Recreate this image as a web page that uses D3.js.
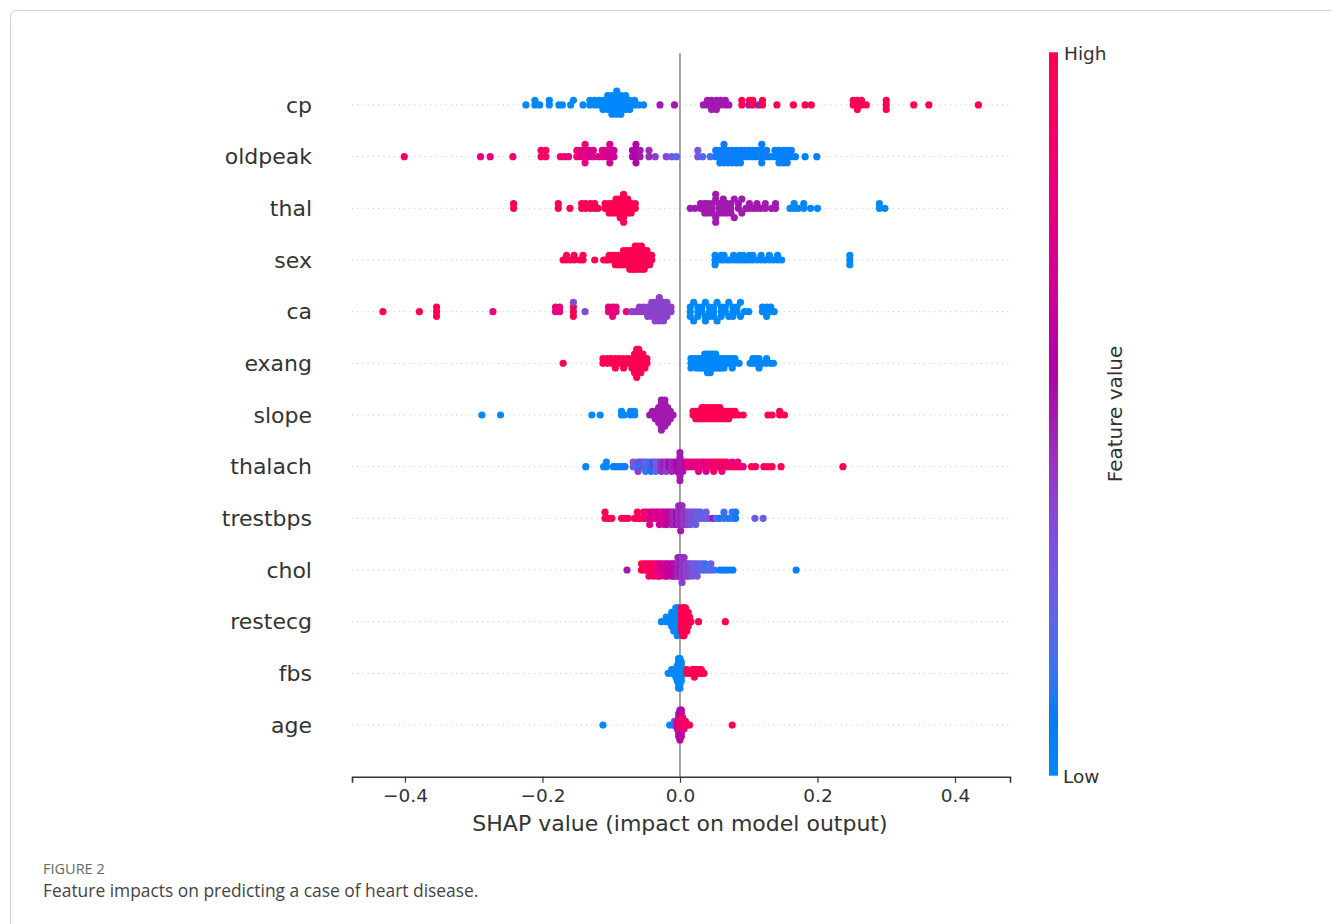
<!DOCTYPE html>
<html>
<head>
<meta charset="utf-8">
<script src="https://cdn.jsdelivr.net/npm/d3@7"></script>
<style>
  body { margin: 0; background: #fff; }
  text { font-family: "DejaVu Sans", sans-serif; fill: #333; }
</style>
</head>
<body>
<svg id="chart" width="1331" height="924"></svg>
<script>
// features, top to bottom
var features = ["cp", "oldpeak", "thal", "sex", "ca", "exang", "slope",
                "thalach", "trestbps", "chol", "restecg", "fbs", "age"];
var tickValues = [-0.4, -0.2, 0.0, 0.2, 0.4];

// [shap value, feature value 0..1, number of points at that value]
var shap_cp = [
  [-0.224,0,1],[-0.211,0,2],[-0.204,0,1],[-0.190,0,2],[-0.176,0,1],[-0.171,0,1],[-0.159,0,1],[-0.155,0,1],
  [-0.141,0,1],[-0.131,0,2],[-0.124,0,2],
  [-0.118,0,2],[-0.112,0,3],[-0.105,0,4],[-0.099,0,5],[-0.092,0,6],[-0.086,0,5],[-0.079,0,4],[-0.073,0,3],
  [-0.066,0,2],[-0.060,0,1],[-0.053,0,1],
  [-0.029,0.5,1],[-0.008,0.5,1],
  [0.034,0.5,1],[0.040,0.5,2],[0.046,0.5,3],[0.053,0.5,3],[0.059,0.5,2],[0.066,0.5,2],[0.071,0.5,1],
  [0.090,1,2],[0.100,0.5,1],[0.101,1,1],[0.106,1,2],[0.114,0.5,1],[0.120,1,2],
  [0.141,1,1],[0.165,1,1],[0.182,1,1],[0.191,1,1],
  [0.252,1,2],[0.258,1,3],[0.264,1,2],[0.271,1,1],
  [0.300,1,3],[0.340,1,1],[0.362,1,1],[0.434,1,1]
];
var shap_oldpeak = [
  [-0.401,0.9,1],[-0.290,0.8,1],[-0.276,0.8,1],[-0.243,0.85,1],[-0.202,0.95,2],[-0.195,0.95,2],
  [-0.174,0.85,1],[-0.168,0.85,1],[-0.162,0.8,1],[-0.150,0.85,2],[-0.144,0.75,2],[-0.138,0.8,4],
  [-0.132,0.7,2],[-0.126,0.75,2],[-0.119,0.7,1],[-0.113,0.75,2],[-0.107,0.7,2],[-0.102,0.7,4],[-0.096,0.65,2],
  [-0.069,0.55,2],[-0.064,0.55,4],[-0.058,0.5,2],[-0.045,0.45,2],[-0.036,0.4,1],[-0.020,0.35,1],
  [-0.012,0.3,1],[-0.005,0.2,1],
  [0.026,0.3,2],[0.033,0.2,1],[0.044,0.15,1],[0.052,0.1,2],[0.058,0.05,3],[0.064,0.1,4],[0.070,0.05,3],
  [0.076,0.1,3],[0.082,0.05,3],[0.088,0.05,3],[0.094,0.1,2],[0.100,0.05,2],[0.106,0.05,2],[0.112,0.05,2],
  [0.119,0.05,4],[0.126,0.1,2],[0.132,0.05,1],[0.138,0.05,2],[0.144,0.05,3],[0.150,0.05,3],[0.156,0.05,3],
  [0.162,0.05,2],[0.168,0.05,1],[0.182,0.05,1],[0.199,0.05,1]
];
var shap_thal = [
  [-0.242,1,2],[-0.177,1,2],[-0.160,1,1],[-0.143,1,2],[-0.137,1,2],[-0.130,1,2],[-0.124,1,2],[-0.119,1,1],
  [-0.109,1,2],[-0.103,1,3],[-0.098,1,3],[-0.093,1,4],[-0.087,1,5],[-0.082,1,7],[-0.076,1,4],[-0.071,1,3],
  [-0.065,1,2],
  [0.015,0.5,1],[0.022,0.5,1],[0.030,0.5,2],[0.036,0.5,3],[0.041,0.5,3],[0.047,0.5,3],[0.052,0.5,4],
  [0.057,0.5,3],[0.063,0.5,4],[0.068,0.5,3],[0.074,0.5,3],[0.079,0.5,2],[0.085,0.5,2],[0.090,0.5,2],
  [0.096,0.5,1],[0.101,0.5,2],[0.107,0.5,1],[0.112,0.5,2],[0.118,0.5,1],[0.124,0.5,2],[0.133,0.5,1],
  [0.139,0.5,2],
  [0.160,0,1],[0.166,0,2],[0.172,0,1],[0.180,0,2],[0.190,0,1],[0.200,0,1],[0.290,0,2],[0.298,0,1]
];
var shap_sex = [
  [-0.170,1,1],[-0.165,1,2],[-0.160,1,1],[-0.154,1,2],[-0.146,1,1],[-0.141,1,2],[-0.124,1,1],
  [-0.111,1,1],[-0.107,1,1],[-0.103,1,2],[-0.098,1,2],[-0.094,1,3],[-0.090,1,3],[-0.086,1,3],[-0.082,1,4],
  [-0.077,1,4],[-0.073,1,5],[-0.069,1,5],[-0.065,1,6],[-0.061,1,6],[-0.056,1,6],[-0.052,1,5],[-0.048,1,4],
  [-0.044,1,3],[-0.041,1,2],
  [0.051,0,3],[0.055,0,1],[0.060,0,2],[0.064,0,2],[0.069,0,1],[0.073,0,1],[0.078,0,2],[0.083,0,1],
  [0.087,0,2],[0.092,0,2],[0.096,0,1],[0.101,0,2],[0.106,0,2],[0.112,0,1],[0.118,0,2],[0.124,0,1],
  [0.130,0,2],[0.136,0,1],[0.142,0,2],[0.148,0,1],[0.247,0,3]
];
var shap_ca = [
  [-0.432,1,1],[-0.379,1,1],[-0.354,1,3],[-0.272,0.8,1],[-0.181,0.8,2],[-0.175,0.8,2],[-0.155,1,3],
  [-0.155,0.35,1],[-0.138,0.35,1],
  [-0.104,0.8,2],[-0.098,0.8,3],[-0.093,0.8,2],[-0.078,0.8,1],
  [-0.070,0.4,1],[-0.064,0.4,1],[-0.059,0.4,2],[-0.053,0.4,2],[-0.047,0.38,3],[-0.041,0.38,4],
  [-0.036,0.38,5],[-0.030,0.38,6],[-0.024,0.38,5],[-0.019,0.38,4],[-0.013,0.38,2],
  [0.015,0,3],[0.020,0,2],[0.026,0,3],[0.032,0,2],[0.037,0,3],[0.043,0,3],[0.049,0,3],[0.054,0,2],
  [0.060,0,3],[0.066,0,2],[0.071,0,2],[0.077,0,3],[0.083,0,2],[0.088,0,2],[0.094,0,1],[0.100,0,1],
  [0.120,0,2],[0.126,0,3],[0.132,0,2],[0.137,0,1]
];
var shap_exang = [
  [-0.170,1,1],[-0.112,1,2],[-0.106,1,2],[-0.100,1,2],[-0.094,1,3],[-0.088,1,2],[-0.082,1,3],[-0.076,1,2],
  [-0.070,1,3],[-0.066,1,5],[-0.063,1,7],[-0.060,1,6],[-0.057,1,5],[-0.054,1,4],[-0.051,1,3],[-0.048,1,2],
  [0.016,0,3],[0.020,0,2],[0.024,0,3],[0.028,0,3],[0.032,0,3],[0.036,0,4],[0.040,0,5],[0.044,0,5],
  [0.048,0,4],[0.052,0,4],[0.056,0,3],[0.060,0,3],[0.064,0,3],[0.068,0,2],[0.072,0,2],[0.076,0,3],
  [0.080,0,2],[0.086,0,1],[0.102,0,1],[0.106,0,2],[0.110,0,2],[0.115,0,3],[0.120,0,1],[0.126,0,2],
  [0.132,0,1],[0.136,0,1]
];
var shap_slope = [
  [-0.288,0,1],[-0.261,0,1],[-0.128,0,1],[-0.116,0,1],[-0.085,0,2],[-0.081,0,1],[-0.072,0,2],[-0.066,0,2],
  [-0.044,0.5,1],[-0.040,0.5,2],[-0.036,0.5,3],[-0.031,0.5,5],[-0.027,0.5,9],[-0.022,0.5,8],
  [-0.018,0.5,5],[-0.014,0.5,3],[-0.010,0.5,1],
  [0.019,1,2],[0.023,1,3],[0.027,1,3],[0.032,1,4],[0.036,1,4],[0.041,1,4],[0.045,1,4],[0.049,1,4],
  [0.054,1,4],[0.058,1,4],[0.063,1,3],[0.067,1,3],[0.071,1,3],[0.076,1,2],[0.080,1,2],[0.085,1,1],
  [0.092,1,1],[0.128,1,1],[0.134,1,1],[0.145,1,2],[0.152,1,1]
];
var shap_thalach = [
  [-0.137,0,1],[-0.111,0,1],[-0.107,0,2],[-0.097,0.05,1],[-0.093,0.05,1],[-0.088,0.1,1],[-0.084,0.05,1],
  [-0.080,0.1,1],
  [-0.068,0.3,2],[-0.064,0.15,1],[-0.061,0.4,2],[-0.057,0.1,2],[-0.053,0.35,2],[-0.050,0.15,3],
  [-0.046,0.25,2],[-0.042,0.1,3],[-0.038,0.45,2],[-0.035,0.2,3],[-0.031,0.3,2],[-0.027,0.45,3],
  [-0.023,0.5,2],[-0.020,0.4,3],[-0.016,0.55,2],[-0.012,0.45,3],[-0.008,0.5,2],[-0.004,0.55,3],
  [0.000,0.5,7],[0.004,0.5,3],[0.008,0.6,2],[0.011,0.8,2],
  [0.015,0.8,2],[0.019,0.7,2],[0.023,0.85,2],[0.027,0.75,3],[0.031,0.9,2],[0.034,0.8,2],[0.038,0.7,3],
  [0.042,0.9,2],[0.046,0.8,2],[0.049,0.95,3],[0.053,0.85,2],[0.057,0.9,2],[0.061,0.8,3],[0.064,1,2],
  [0.068,0.85,2],[0.072,0.9,1],[0.076,0.8,2],[0.080,0.95,1],[0.084,0.85,2],[0.088,0.9,1],[0.092,0.8,1],
  [0.104,1,1],[0.110,0.95,1],[0.122,0.9,1],[0.128,0.95,1],[0.134,1,1],[0.147,1,1],[0.237,1,1]
];
var shap_trestbps = [
  [-0.109,1,2],[-0.104,1,1],[-0.099,1,1],[-0.085,1,1],[-0.080,1,1],[-0.075,0.95,1],
  [-0.066,0.95,1],[-0.062,1,2],[-0.058,0.9,1],[-0.053,0.95,2],[-0.049,0.85,2],[-0.046,0.9,1],
  [-0.044,0.75,3],[-0.040,0.6,2],[-0.037,0.8,2],[-0.033,0.7,2],[-0.030,0.65,3],[-0.026,0.8,2],
  [-0.023,0.7,3],[-0.019,0.6,3],[-0.016,0.65,2],
  [-0.012,0.5,3],[-0.009,0.45,3],[-0.005,0.55,3],[-0.002,0.4,4],[0.001,0.5,5],[0.003,0.45,4],
  [0.006,0.4,3],[0.009,0.45,3],[0.012,0.35,3],
  [0.016,0.3,3],[0.020,0.35,2],[0.023,0.25,3],[0.027,0.3,2],[0.030,0.2,2],[0.034,0.3,1],[0.038,0.25,2],
  [0.042,0.3,1],
  [0.048,0.5,1],[0.053,0.15,1],[0.058,0.1,1],[0.064,0.15,2],[0.070,0.1,1],[0.076,0.15,2],[0.081,0.1,2],
  [0.109,0.25,1],[0.121,0.25,1]
];
var shap_chol = [
  [-0.077,0.5,1],[-0.056,1,2],[-0.052,1,2],[-0.049,0.95,2],[-0.045,0.9,3],[-0.042,1,2],[-0.038,0.95,3],
  [-0.035,0.9,2],
  [-0.032,0.75,3],[-0.029,0.8,3],[-0.026,0.65,2],[-0.022,0.75,3],[-0.019,0.6,3],[-0.016,0.7,2],
  [-0.012,0.55,3],[-0.009,0.65,3],[-0.006,0.5,3],
  [-0.003,0.45,4],[0.000,0.5,4],[0.003,0.4,5],[0.006,0.45,4],[0.009,0.35,3],[0.012,0.4,3],[0.015,0.35,2],
  [0.018,0.3,3],[0.022,0.25,2],[0.025,0.3,3],[0.029,0.2,2],[0.033,0.25,2],[0.037,0.15,2],[0.041,0.2,1],
  [0.045,0.25,2],[0.050,0.15,1],
  [0.058,0.05,1],[0.062,0.1,1],[0.067,0.05,1],[0.072,0.1,1],[0.077,0.05,1],[0.169,0.05,1]
];
var shap_restecg = [
  [-0.027,0,1],[-0.020,0,2],[-0.016,0,2],[-0.012,0,4],[-0.009,0,5],[-0.006,0,6],[-0.004,0,7],[-0.002,0,6],
  [0.002,1,6],[0.004,1,7],[0.006,1,7],[0.008,1,6],[0.010,1,5],[0.012,1,4],[0.014,1,2],[0.016,1,1],
  [0.027,1,1],[0.066,1,1]
];
var shap_fbs = [
  [-0.017,0,1],[-0.012,0,2],[-0.009,0,2],[-0.006,0,3],[-0.004,0,5],[-0.002,0,9],[0.000,0,9],[0.002,0,6],
  [0.004,0,2],
  [0.010,1,2],[0.014,1,1],[0.018,1,2],[0.021,1,3],[0.024,1,2],[0.027,1,2],[0.031,1,2],[0.035,1,1]
];
var shap_age = [
  [-0.112,0,1],[-0.015,0,1],[-0.011,0.1,1],[-0.008,0.3,2],[-0.006,0.05,1],[-0.004,0.6,3],[-0.002,0.7,5],
  [-0.002,0.45,2],[0.000,0.8,5],[0.000,0.55,4],[0.002,1,4],[0.002,0.6,4],[0.004,0.85,4],[0.006,0.7,3],
  [0.008,0.95,2],[0.011,1,1],[0.014,1,1],[0.076,1,1]
];

var rows = [shap_cp, shap_oldpeak, shap_thal, shap_sex, shap_ca, shap_exang, shap_slope,
            shap_thalach, shap_trestbps, shap_chol, shap_restecg, shap_fbs, shap_age];

// shap red_blue colormap (lch ramp, darker in the middle)
function redBlue(t) {
  var h = 266.93 + t * (380.32 - 266.93);
  var c = 70 + 20 * t;
  var l = t <= 0.5 ? 54 - 28 * t : 40 + 28 * (t - 0.5);
  return d3.hcl(h, c, l).formatHex();
}

// one entry per point
function expand(groups) {
  var out = [];
  groups.forEach(function (g) {
    for (var k = 0; k < g[2]; k++) out.push([g[0], g[1]]);
  });
  return out;
}

// stack points that fall into the same bin, like shap's beeswarm
function swarm(pts) {
  var n = pts.length, nbins = 100;
  var vals = pts.map(function (p) { return p[0]; });
  var mn = d3.min(vals), mx = d3.max(vals);
  var quant = vals.map(function (v) { return Math.round(nbins * (v - mn) / (mx - mn + 1e-8)); });
  var inds = d3.range(n).sort(function (a, b) { return quant[a] - quant[b] || a - b; });
  var ys = new Array(n).fill(0), layer = 0, last = null;
  inds.forEach(function (i) {
    if (quant[i] !== last) layer = 0;
    ys[i] = Math.ceil(layer / 2) * ((layer % 2) * 2 - 1);
    layer += 1;
    last = quant[i];
  });
  var m = d3.max(ys) + 1;
  return ys.map(function (y) { return y * 0.9 * (0.4 / m); });
}

var svg = d3.select("#chart");

// journal frame
svg.append("rect")
  .attr("x", 10.5).attr("y", 10.5)
  .attr("width", 1340).attr("height", 1000)
  .attr("rx", 6)
  .attr("fill", "none")
  .attr("stroke", "#cfcfcf");

var x = d3.scaleLinear().domain([-0.477, 0.48]).range([352, 1010]);
var y = d3.scaleLinear().domain([-1, features.length]).range([776.7, 53.3]);
var rowY = function (i) { return y(features.length - 1 - i); };

// dotted row guides
svg.append("g").selectAll("line")
  .data(features)
  .enter().append("line")
  .attr("x1", x.range()[0]).attr("x2", x.range()[1])
  .attr("y1", function (d, i) { return rowY(i); })
  .attr("y2", function (d, i) { return rowY(i); })
  .attr("stroke", "#cccccc")
  .attr("stroke-width", 1)
  .attr("stroke-dasharray", "1.2,4");

// zero line
svg.append("line")
  .attr("x1", x(0)).attr("x2", x(0))
  .attr("y1", y(features.length)).attr("y2", y(-1))
  .attr("stroke", "#999")
  .attr("stroke-width", 1.8);

// points
rows.forEach(function (groups, i) {
  var pts = expand(groups);
  var offs = swarm(pts);
  var rowH = y(0) - y(1);
  svg.append("g").attr("class", "row-" + features[i])
    .selectAll("circle")
    .data(pts)
    .enter().append("circle")
    .attr("cx", function (d) { return x(d[0]); })
    .attr("cy", function (d, j) { return rowY(i) - offs[j] * rowH; })
    .attr("r", 3.6)
    .attr("fill", function (d) { return redBlue(d[1]); });
});

// feature names
svg.append("g").selectAll("text")
  .data(features)
  .enter().append("text")
  .attr("x", 312)
  .attr("y", function (d, i) { return rowY(i); })
  .attr("dy", "0.35em")
  .attr("text-anchor", "end")
  .style("font-size", "22px")
  .text(function (d) { return d; });

// x axis
var axis = svg.append("g")
  .attr("transform", "translate(0," + y(-1) + ")")
  .call(d3.axisBottom(x).tickValues(tickValues).tickSizeOuter(0).tickSize(6).tickPadding(6)
    .tickFormat(d3.format(".1f")));
axis.select(".domain").attr("stroke", "#333").attr("stroke-width", 1.6);
axis.selectAll(".tick line").attr("stroke", "#333").attr("stroke-width", 1.2);
axis.selectAll(".tick text")
  .style("font-size", "18.5px")
  .style("font-family", "DejaVu Sans")
  .attr("fill", "#333");

svg.append("text")
  .attr("x", x(0)).attr("y", 831)
  .attr("text-anchor", "middle")
  .style("font-size", "22px")
  .text("SHAP value (impact on model output)");

// colorbar
var grad = svg.append("defs").append("linearGradient")
  .attr("id", "cbar").attr("x1", 0).attr("y1", 1).attr("x2", 0).attr("y2", 0);
grad.selectAll("stop")
  .data(d3.range(0, 1.0001, 0.02))
  .enter().append("stop")
  .attr("offset", function (d) { return d; })
  .attr("stop-color", function (d) { return redBlue(d); });

var cbTop = y(features.length) - 1, cbBot = y(-1) - 1;
svg.append("rect")
  .attr("x", 1049).attr("y", cbTop)
  .attr("width", 9).attr("height", cbBot - cbTop)
  .attr("fill", "url(#cbar)");

svg.append("text").attr("x", 1064).attr("y", cbTop + 1).attr("dy", "0.35em")
  .style("font-size", "18.5px").text("High");
svg.append("text").attr("x", 1063).attr("y", cbBot + 1).attr("dy", "0.35em")
  .style("font-size", "18.5px").text("Low");
svg.append("text")
  .attr("transform", "translate(1122," + ((cbTop + cbBot) / 2) + ") rotate(-90)")
  .attr("text-anchor", "middle")
  .style("font-size", "20px")
  .text("Feature value");

// caption
svg.append("text").attr("x", 43).attr("y", 874)
  .style("font-family", "'Open Sans', sans-serif")
  .style("font-size", "14.5px").style("fill", "#666")
  .text("FIGURE 2");
svg.append("text").attr("x", 43).attr("y", 897)
  .style("font-family", "'Open Sans', sans-serif")
  .style("font-size", "17.4px").style("fill", "#444")
  .text("Feature impacts on predicting a case of heart disease.");
</script>
</body>
</html>
